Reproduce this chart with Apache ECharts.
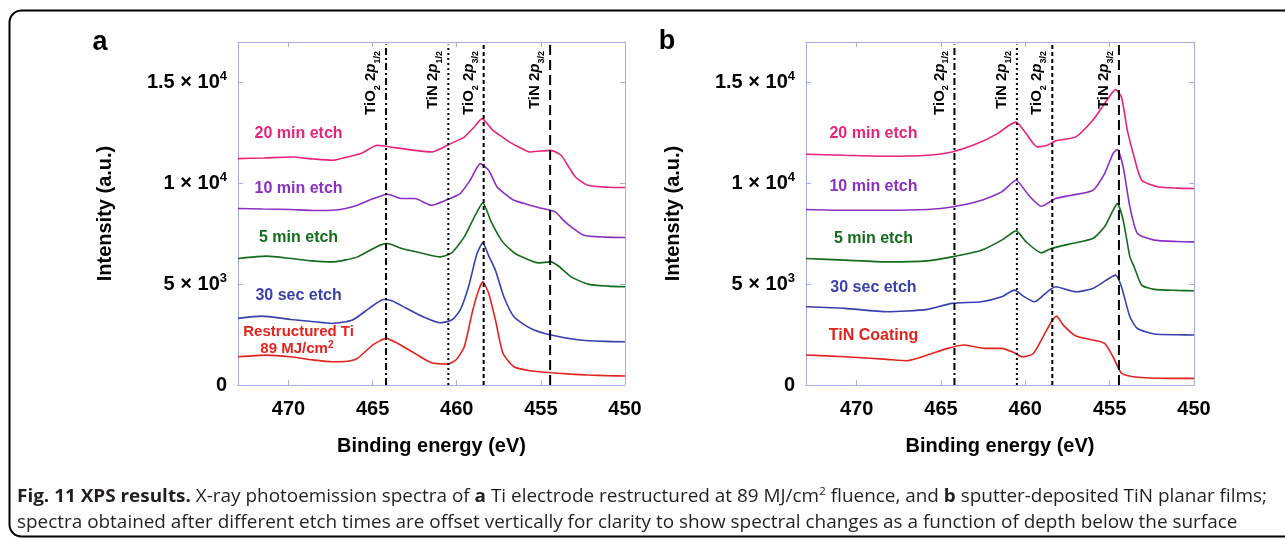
<!DOCTYPE html>
<html><head><meta charset="utf-8">
<script src="https://cdn.jsdelivr.net/npm/echarts@6/dist/echarts.min.js"></script>
<style>html,body{margin:0;padding:0;background:#fff}#c{width:1285px;height:541px}</style>
</head><body><div id="c"></div><script>
// ---------- axes ----------
const xTicks = [470, 465, 460, 455, 450];
const yTickValues = [0, 5000, 10000, 15000];
const yTickMantissa = ['0', '5 × 10', '1 × 10', '1.5 × 10'];
const yTickExponent = ['', '3', '4', '4'];
const xMin = 450, xMax = 473, yMin = 0, yMax = 17000;
const xAxisName = 'Binding energy (eV)';
const yAxisName = 'Intensity (a.u.)';
const panelLetters = ['a', 'b'];

// ---------- reference lines (eV) ----------
const refLineE_a = [464.2, 460.5, 458.4, 454.45];
const refLineE_b = [464.2, 460.5, 458.4, 454.45];
const refChem = ['TiO', 'TiN', 'TiO', 'TiN'];
const refChemSub = ['2', '', '2', ''];
const refLevel = ['1/2', '1/2', '3/2', '3/2'];

// ---------- panel a spectra [eV, intensity] ----------
const a_20min = [[473,11220],[471.5,11250],[469.85,11300],[468.5,11200],[467.4,11140],[466.5,11300],[465.7,11470],[464.7,11880],[463.7,11765],[462.5,11630],[461.5,11550],[460.55,11880],[460,12100],[459.55,12290],[459,12750],[458.5,13200],[457.85,12620],[457.3,12300],[456.85,12040],[456.2,11750],[455.65,11550],[455,11600],[454.4,11630],[453.8,11385],[453.3,10750],[452.95,10310],[452.2,9900],[451,9800],[450,9785]];
const a_10min = [[473,8750],[471.5,8720],[469.85,8700],[468.5,8650],[467.4,8660],[466.6,8750],[465.9,8910],[464.95,9240],[464.1,9455],[463.25,9240],[462.5,9240],[461.5,8910],[460.65,9160],[459.8,9490],[459.2,10150],[458.6,10970],[458.1,10640],[457.6,9815],[457.1,9450],[456.6,9160],[455.8,8950],[455.15,8800],[454.15,8580],[453.7,8200],[453.2,7840],[452.45,7425],[451.2,7330],[450,7310]];
const a_5min = [[473,6270],[471.3,6385],[469.85,6270],[468.6,6150],[467.4,6100],[466.6,6200],[465.9,6350],[464.7,6880],[464.15,7010],[463.25,6765],[462,6520],[461,6350],[460.3,6550],[459.55,7340],[458.95,8330],[458.45,9025],[457.95,8080],[457.35,7180],[456.8,6700],[456.35,6435],[455.15,6055],[454.4,6100],[453.9,5860],[453.2,5360],[452.2,5000],[451,4900],[450,4870]];
const a_30sec = [[473,3300],[471.6,3415],[469.85,3250],[468.6,3150],[467.4,3050],[466.2,3220],[465.2,3800],[464.35,4240],[463.85,4170],[463,3800],[462,3380],[461,3085],[460.3,3220],[459.8,3710],[459.3,4870],[458.8,6500],[458.45,7050],[458.1,6400],[457.7,5690],[457.2,4370],[456.6,3380],[455.6,2800],[454.4,2475],[452.7,2230],[451.2,2160],[450,2140]];
const a_restructured = [[473,1400],[471.3,1480],[469.9,1400],[468.6,1250],[467.4,1155],[466.5,1180],[465.9,1320],[465,1980],[464.2,2310],[463.5,2060],[462.5,1570],[461.5,1100],[460.55,1040],[460.05,1240],[459.55,1900],[459.05,3700],[458.7,4700],[458.45,5110],[458.1,4540],[457.7,3220],[457.25,1570],[456.6,905],[455.65,710],[454.4,610],[453.2,540],[452.2,495],[451,460],[450,445]];

// ---------- panel b spectra [eV, intensity] ----------
const b_20min = [[473,11435],[470.7,11385],[468.2,11335],[465.8,11385],[464.35,11550],[462.85,11965],[461.65,12460],[461,12850],[460.55,13030],[459.95,12460],[459.3,11800],[458.7,11880],[458.2,12100],[457,12300],[456,13120],[455.3,13945],[454.65,14640],[454.3,14270],[453.95,12620],[453.55,11300],[453.1,10150],[452.1,9815],[451,9760],[450,9740]];
const b_10min = [[473,8700],[470.7,8660],[468.2,8660],[465.8,8700],[464.35,8825],[462.6,9160],[461.4,9570],[460.55,10150],[459.8,9405],[459.05,8860],[458.2,9240],[457.25,9405],[456,9650],[455.3,10480],[454.8,11470],[454.55,11670],[454.2,10810],[453.8,8825],[453.35,7510],[452.35,7180],[451,7110],[450,7095]];
const b_5min = [[473,6270],[470.7,6190],[468.2,6100],[465.8,6150],[464.35,6350],[462.6,6680],[461.4,7180],[460.55,7640],[459.95,7095],[459.05,6550],[458.45,6765],[457.25,7010],[456,7260],[455.3,7840],[454.8,8660],[454.55,8990],[454.2,8170],[453.8,6350],[453.55,5860],[453.1,4950],[452.35,4740],[451,4690],[450,4670]];
const b_30sec = [[473,3875],[470.7,3800],[468.2,3630],[465.8,3750],[464.35,4045],[462.6,4125],[461.4,4370],[460.65,4700],[460.05,4370],[459.45,4125],[458.7,4620],[458.2,4870],[457,4620],[456,4785],[455.05,5280],[454.65,5445],[454.3,4870],[453.8,3380],[453.35,2800],[452.35,2525],[451,2490],[450,2475]];
const b_coating = [[473,1485],[470.7,1400],[468.2,1270],[467,1205],[465.8,1485],[464.6,1815],[463.6,1980],[462.4,1815],[461.4,1815],[460.65,1600],[460.2,1400],[459.55,1535],[458.95,2390],[458.45,3135],[458.15,3415],[457.75,2970],[457,2425],[456,2230],[455.3,2060],[454.8,1400],[454.3,580],[453.6,410],[451.6,330],[450,330]];

// ---------- series labels ----------
const a_labels = ['20 min etch', '10 min etch', '5 min etch', '30 sec etch', 'Restructured Ti'];
const b_labels = ['20 min etch', '10 min etch', '5 min etch', '30 sec etch', 'TiN Coating'];
const a_labelPos = [[469.4,12470],[469.4,9750],[469.4,7330],[469.4,4455],[469.4,2620]];
const b_labelPos = [[469.0,12470],[469.0,9850],[469.0,7280],[469.0,4850],[469.0,2425]];
const a_fluenceText = ['89 MJ/cm', '2'];
const a_fluencePos = [469.5, 1780];

const captionBold = 'Fig. 11 XPS results.';
const captionLine1 = [' X-ray photoemission spectra of ', 'a', ' Ti electrode restructured at 89 MJ/cm', '2', ' fluence, and ', 'b', ' sputter-deposited TiN planar films;'];
const captionLine2 = 'spectra obtained after different etch times are offset vertically for clarity to show spectral changes as a function of depth below the surface';

// ---------- styling ----------
const colors = ['#e8237b', '#8a2fc4', '#136b1c', '#3a3fae', '#e2231f'];
const frameColor = '#a9abe3';
const FONT = 'Liberation Sans, Arial, sans-serif';
const dashes = [[7, 3, 2, 3], [2, 3], [4, 3], [10, 5]];
const grids = [
  { left: 238, top: 42, width: 387, height: 343 },
  { left: 806, top: 42, width: 388, height: 343 }
];

const chart = echarts.init(document.getElementById('c'), null, { renderer: 'canvas' });

function xAxisCfg(gi, pos) {
  const bottom = pos === 'bottom';
  return {
    gridIndex: gi, type: 'value', min: xMin, max: xMax, interval: 5, inverse: true, position: pos,
    axisLine: { show: true, onZero: false, lineStyle: { color: frameColor, width: 1 } },
    axisTick: { show: true, inside: true, length: 5, lineStyle: { color: frameColor, width: 1 } },
    axisLabel: {
      show: bottom, margin: 14, color: '#000', fontSize: 20, fontWeight: 'bold', fontFamily: FONT,
      formatter: v => xTicks.includes(v) ? String(v) : ''
    },
    splitLine: { show: false },
    name: bottom ? xAxisName : '', nameLocation: 'middle', nameGap: 51,
    nameTextStyle: { color: '#000', fontSize: 20, fontWeight: 'bold', fontFamily: FONT }
  };
}
function yAxisCfg(gi, pos) {
  const left = pos === 'left';
  return {
    gridIndex: gi, type: 'value', min: yMin, max: yMax, interval: 5000, position: pos,
    axisLine: { show: true, onZero: false, lineStyle: { color: frameColor, width: 1 } },
    axisTick: { show: true, inside: true, length: 5, lineStyle: { color: frameColor, width: 1 } },
    axisLabel: {
      show: left, margin: 11,
      formatter: v => {
        const i = yTickValues.indexOf(v);
        if (i < 0) return '';
        return yTickExponent[i] ? '{m|' + yTickMantissa[i] + '}{s|' + yTickExponent[i] + '}' : '{m|' + yTickMantissa[i] + '}';
      },
      rich: {
        m: { fontSize: 20, fontWeight: 'bold', fontFamily: FONT, color: '#000', lineHeight: 24 },
        s: { fontSize: 13, fontWeight: 'bold', fontFamily: FONT, color: '#000', lineHeight: 12, verticalAlign: 'top' }
      }
    },
    splitLine: { show: false },
    name: left ? yAxisName : '', nameLocation: 'middle', nameGap: 123, nameRotate: 90,
    nameTextStyle: { color: '#000', fontSize: 20, fontWeight: 'bold', fontFamily: FONT }
  };
}

const panels = [
  { curves: [a_20min, a_10min, a_5min, a_30sec, a_restructured], refs: refLineE_a },
  { curves: [b_20min, b_10min, b_5min, b_30sec, b_coating], refs: refLineE_b }
];

const xAxes = [], yAxes = [], series = [];
panels.forEach((p, gi) => {
  xAxes.push(xAxisCfg(gi, 'bottom'), xAxisCfg(gi, 'top'));
  yAxes.push(yAxisCfg(gi, 'left'), yAxisCfg(gi, 'right'));
  p.curves.forEach((d, ci) => {
    series.push({
      type: 'line', xAxisIndex: gi * 2, yAxisIndex: gi * 2, data: d, showSymbol: false,
      smooth: 0.2, lineStyle: { color: colors[ci], width: 1.6 }, z: 2, silent: true
    });
  });
  p.refs.forEach((e, ri) => {
    series.push({
      type: 'line', xAxisIndex: gi * 2, yAxisIndex: gi * 2, data: [[e, yMin], [e, yMax - 120]], showSymbol: false,
      lineStyle: { color: '#000', width: 2, type: dashes[ri] }, z: 3, silent: true
    });
  });
});

chart.setOption({
  animation: false,
  grid: grids.map(g => Object.assign({ containLabel: false }, g)),
  xAxis: xAxes, yAxis: yAxes, series: series
});

// ---------- annotations ----------
const graphics = [];
graphics.push({ type: 'rect', shape: { x: 9.5, y: 10.5, width: 1320, height: 526, r: 12 },
  style: { fill: 'none', stroke: '#000', lineWidth: 2 }, z: 0 });
graphics.push({ type: 'text', x: 100, y: 43, style: { text: panelLetters[0], font: 'bold 27px ' + FONT, fill: '#000', align: 'center', verticalAlign: 'middle' } });
graphics.push({ type: 'text', x: 667, y: 42, style: { text: panelLetters[1], font: 'bold 27px ' + FONT, fill: '#000', align: 'center', verticalAlign: 'middle' } });

const refRich = {
  n: { fontSize: 15, fontWeight: 'bold', fontFamily: FONT, fill: '#000', lineHeight: 22 },
  i: { fontSize: 15, fontWeight: 'bold', fontStyle: 'italic', fontFamily: FONT, fill: '#000', lineHeight: 22 },
  u: { fontSize: 9, fontWeight: 'bold', fontFamily: FONT, fill: '#000', lineHeight: 10, verticalAlign: 'bottom' }
};
panels.forEach((p, gi) => {
  p.refs.forEach((e, ri) => {
    const px = chart.convertToPixel({ gridIndex: gi }, [e, yMax]);
    let t = '{n|' + refChem[ri] + '}';
    if (refChemSub[ri]) t += '{u|' + refChemSub[ri] + '}';
    t += '{n| 2}{i|p}{u|' + refLevel[ri] + '}';
    graphics.push({ type: 'text', x: px[0] - 4, y: 51, rotation: Math.PI / 2,
      style: { text: t, rich: refRich, align: 'right', verticalAlign: 'bottom' }, z: 5 });
  });
});

[a_labels, b_labels].forEach((labs, gi) => {
  const pos = gi === 0 ? a_labelPos : b_labelPos;
  labs.forEach((txt, li) => {
    const px = chart.convertToPixel({ gridIndex: gi }, pos[li]);
    const small = txt === 'Restructured Ti';
    graphics.push({ type: 'text', x: px[0], y: px[1],
      style: { text: txt, font: 'bold ' + (small ? 15 : 16) + 'px ' + FONT, fill: colors[li], align: 'center', verticalAlign: 'middle' }, z: 5 });
  });
});
(function () {
  const px = chart.convertToPixel({ gridIndex: 0 }, a_fluencePos);
  graphics.push({ type: 'text', x: px[0], y: px[1],
    style: { text: '{n|' + a_fluenceText[0] + '}{s|' + a_fluenceText[1] + '}', align: 'center', verticalAlign: 'middle',
      rich: { n: { fontSize: 15, fontWeight: 'bold', fontFamily: FONT, fill: colors[4], lineHeight: 18 },
              s: { fontSize: 10, fontWeight: 'bold', fontFamily: FONT, fill: colors[4], lineHeight: 10, verticalAlign: 'top' } } }, z: 5 });
})();

// caption
const CAP_FONT = 'Open Sans, Noto Sans, sans-serif';
const capSize = 17.5;
const ctx = document.createElement('canvas').getContext('2d');
function w(text, bold, size) { ctx.font = (bold ? 'bold ' : '') + size + 'px ' + CAP_FONT; return ctx.measureText(text).width; }
const boldIdx = [1, 5];
let nat1 = w(captionBold, true, capSize);
captionLine1.forEach((s, i) => { nat1 += (i === 3) ? w(s, false, 11) : w(s, boldIdx.includes(i), capSize); });
const target1 = 1250;
const sx = target1 / nat1;
const capRich = {
  b: { fontSize: capSize, fontWeight: 'bold', fontFamily: CAP_FONT, fill: '#231f20', lineHeight: 22 },
  r: { fontSize: capSize, fontFamily: CAP_FONT, fill: '#231f20', lineHeight: 22 },
  s: { fontSize: 11, fontFamily: CAP_FONT, fill: '#231f20', lineHeight: 11, verticalAlign: 'top' }
};
let t1 = '{b|' + captionBold + '}';
captionLine1.forEach((s, i) => { t1 += (i === 3 ? '{s|' : boldIdx.includes(i) ? '{b|' : '{r|') + s + '}'; });
graphics.push({ type: 'text', x: 17, y: 497, scaleX: sx, style: { text: t1, rich: capRich, align: 'left', verticalAlign: 'middle' } });
graphics.push({ type: 'text', x: 17, y: 523, scaleX: sx, style: { text: '{r|' + captionLine2 + '}', rich: capRich, align: 'left', verticalAlign: 'middle' } });

chart.setOption({ graphic: graphics });
</script></body></html>
